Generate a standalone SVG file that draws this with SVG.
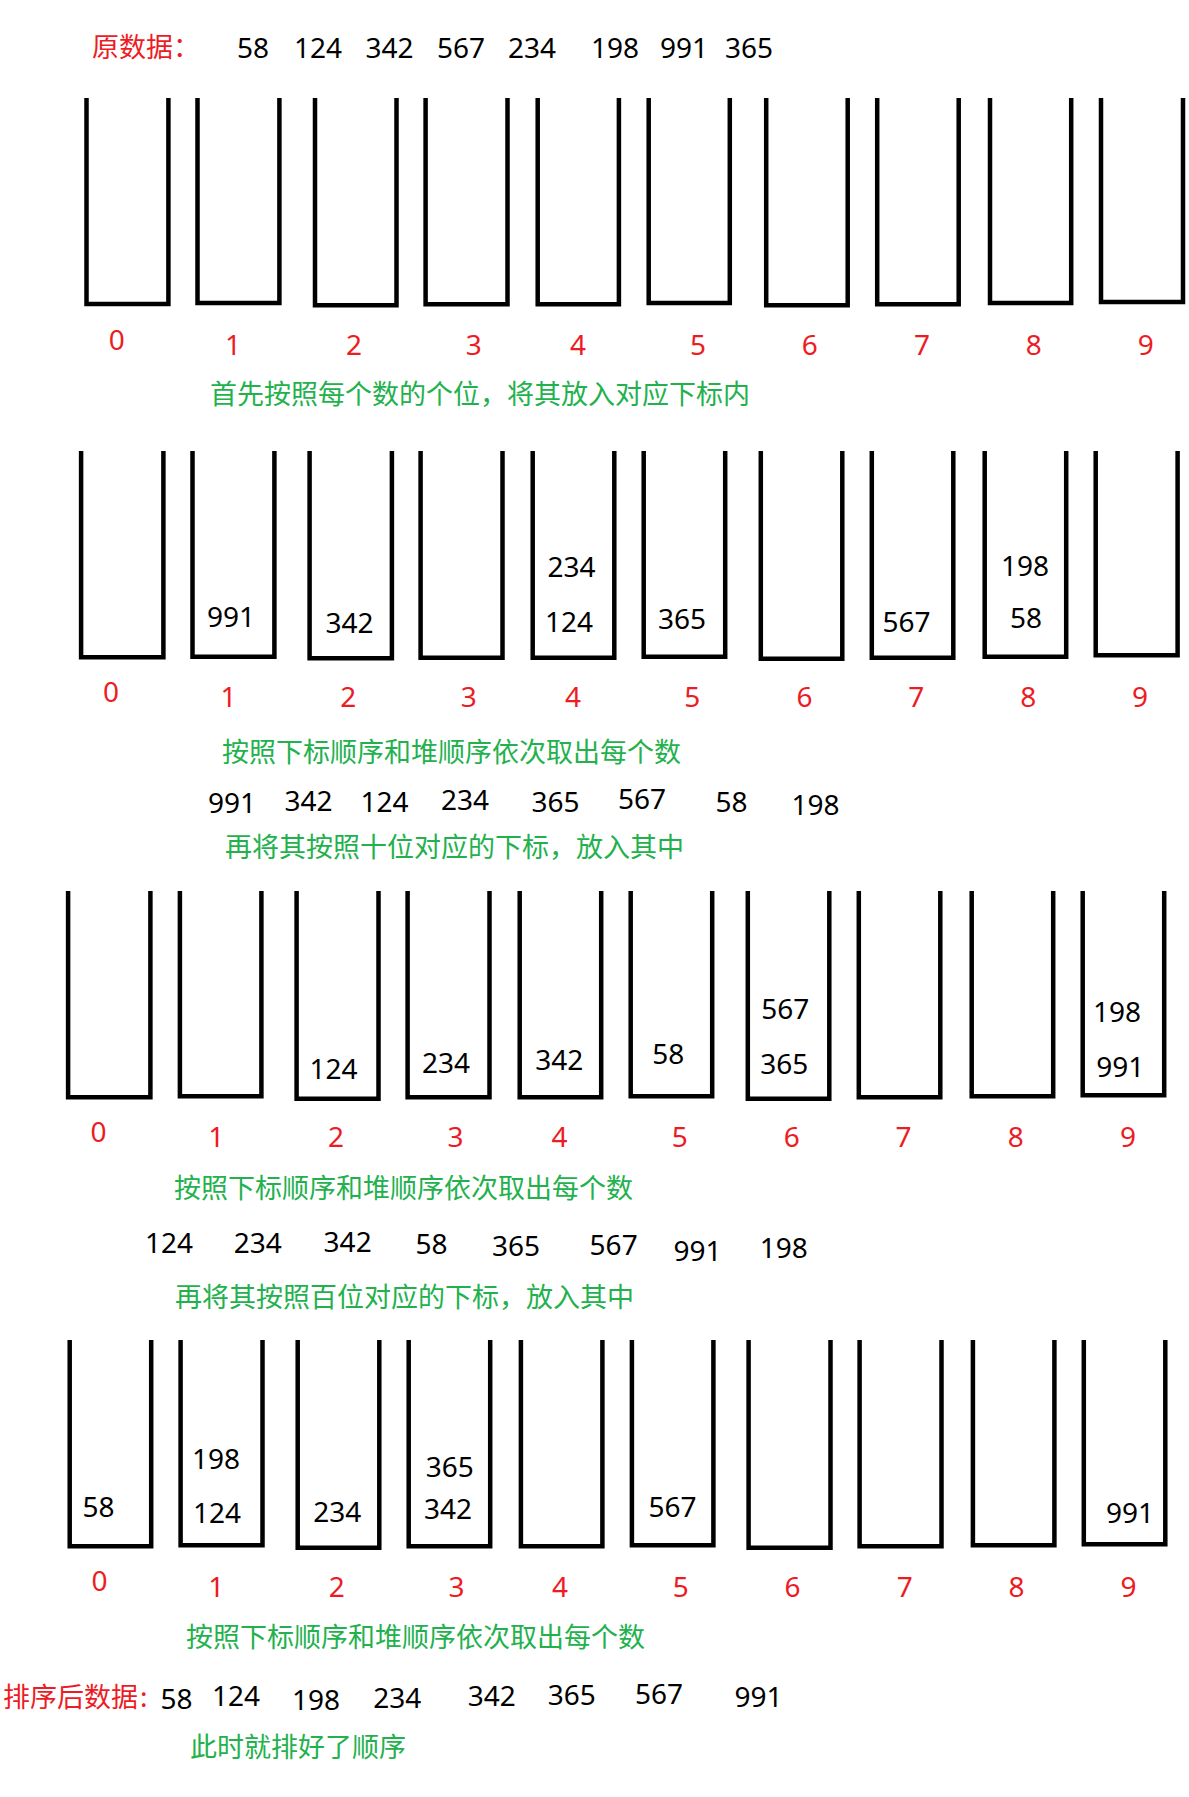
<svg xmlns="http://www.w3.org/2000/svg" width="1189" height="1797" viewBox="0 0 1189 1797">
<style>
.bk{fill:none;stroke:#000;stroke-width:4.5;stroke-linejoin:miter;stroke-linecap:butt}
.n{font-family:"Noto Sans","Noto Sans CJK SC",sans-serif;font-size:28px;fill:#000}
.ix{font-family:"Noto Sans","Noto Sans CJK SC",sans-serif;font-size:28px;fill:#ed1c24;text-anchor:middle}
.g{font-family:"Noto Sans CJK SC","Noto Sans",sans-serif;font-size:27px;fill:#22b14c}
.r{font-family:"Noto Sans CJK SC","Noto Sans",sans-serif;font-size:27px;fill:#ed1c24}
</style>
<rect width="1189" height="1797" fill="#fff"/>

<g id="header">
<text class="r" x="92" y="56.5">原数据：</text>
<text class="n" x="237" y="58">58</text>
<text class="n" x="294" y="58">124</text>
<text class="n" x="365.5" y="58">342</text>
<text class="n" x="437" y="58">567</text>
<text class="n" x="508" y="58">234</text>
<text class="n" x="591" y="58">198</text>
<text class="n" x="660" y="58">991</text>
<text class="n" x="725" y="58">365</text>
</g>

<g id="row1">
<g id="r1-b0"><path class="bk" d="M86.5 98V304H168.4V98"/><text class="ix" x="116.7" y="350">0</text></g>
<g id="r1-b1"><path class="bk" d="M197.5 98V303H279.4V98"/><text class="ix" x="233" y="355">1</text></g>
<g id="r1-b2"><path class="bk" d="M315 98V305.3H396.5V98"/><text class="ix" x="354" y="355">2</text></g>
<g id="r1-b3"><path class="bk" d="M425.6 98V304.3H507.5V98"/><text class="ix" x="473.8" y="355">3</text></g>
<g id="r1-b4"><path class="bk" d="M537.7 98V304.3H618.9V98"/><text class="ix" x="578" y="355">4</text></g>
<g id="r1-b5"><path class="bk" d="M648.7 98V303H729.8V98"/><text class="ix" x="698" y="355">5</text></g>
<g id="r1-b6"><path class="bk" d="M766.2 98V305.3H847.7V98"/><text class="ix" x="809.8" y="355">6</text></g>
<g id="r1-b7"><path class="bk" d="M877.2 98V304.3H958.7V98"/><text class="ix" x="922" y="355">7</text></g>
<g id="r1-b8"><path class="bk" d="M990 98V303H1071.2V98"/><text class="ix" x="1033.7" y="355">8</text></g>
<g id="r1-b9"><path class="bk" d="M1101 98V302H1183V98"/><text class="ix" x="1145.8" y="355">9</text></g>
</g>
<text class="g" x="210" y="404">首先按照每个数的个位，将其放入对应下标内</text>

<g id="row2">
<g id="r2-b0"><path class="bk" d="M81.1 451V657.3H163.4V451"/><text class="ix" x="111" y="701.7">0</text></g>
<g id="r2-b1"><path class="bk" d="M192.5 451V656.7H274.4V451"/><text class="n" x="207" y="627.3">991</text><text class="ix" x="228.5" y="707.3">1</text></g>
<g id="r2-b2"><path class="bk" d="M309.6 451V658.3H391.9V451"/><text class="n" x="325.5" y="632.7">342</text><text class="ix" x="348.3" y="707.3">2</text></g>
<g id="r2-b3"><path class="bk" d="M420.6 451V657.7H502.5V451"/><text class="ix" x="468.8" y="707.3">3</text></g>
<g id="r2-b4"><path class="bk" d="M532.7 451V657.7H614.3V451"/><text class="n" x="547.5" y="576.7">234</text><text class="n" x="545" y="631.7">124</text><text class="ix" x="572.9" y="707.3">4</text></g>
<g id="r2-b5"><path class="bk" d="M643.7 451V656.7H725.2V451"/><text class="n" x="658" y="629">365</text><text class="ix" x="692.3" y="707.3">5</text></g>
<g id="r2-b6"><path class="bk" d="M760.8 451V658.7H842.3V451"/><text class="ix" x="804.5" y="707.3">6</text></g>
<g id="r2-b7"><path class="bk" d="M871.8 451V657.7H953.3V451"/><text class="n" x="882.5" y="631.7">567</text><text class="ix" x="916.2" y="707.3">7</text></g>
<g id="r2-b8"><path class="bk" d="M984.7 451V656.7H1066.2V451"/><text class="n" x="1001" y="575.7">198</text><text class="n" x="1010" y="628.3">58</text><text class="ix" x="1028.3" y="707.3">8</text></g>
<g id="r2-b9"><path class="bk" d="M1095.7 451V655.3H1177.6V451"/><text class="ix" x="1140.1" y="707.3">9</text></g>
</g>
<text class="g" x="222" y="762">按照下标顺序和堆顺序依次取出每个数</text>
<g id="seq1">
<text class="n" x="208" y="813.3">991</text>
<text class="n" x="284.5" y="811">342</text>
<text class="n" x="360.5" y="811.7">124</text>
<text class="n" x="441" y="810">234</text>
<text class="n" x="531.5" y="811.7">365</text>
<text class="n" x="618" y="809.3">567</text>
<text class="n" x="715.5" y="811.7">58</text>
<text class="n" x="791.5" y="815">198</text>
</g>
<text class="g" x="225" y="857">再将其按照十位对应的下标，放入其中</text>

<g id="row3">
<g id="r3-b0"><path class="bk" d="M68.1 891V1097.3H150.4V891"/><text class="ix" x="98.4" y="1142.3">0</text></g>
<g id="r3-b1"><path class="bk" d="M179.9 891V1096.3H261.4V891"/><text class="ix" x="216.2" y="1147.3">1</text></g>
<g id="r3-b2"><path class="bk" d="M296.6 891V1098.7H378.5V891"/><text class="n" x="309.5" y="1079">124</text><text class="ix" x="336" y="1147.3">2</text></g>
<g id="r3-b3"><path class="bk" d="M407.6 891V1097.3H489.5V891"/><text class="n" x="422" y="1073.3">234</text><text class="ix" x="455.4" y="1147.3">3</text></g>
<g id="r3-b4"><path class="bk" d="M519.7 891V1097.3H601.2V891"/><text class="n" x="535.2" y="1070">342</text><text class="ix" x="559.5" y="1147.3">4</text></g>
<g id="r3-b5"><path class="bk" d="M630.7 891V1096.3H712.2V891"/><text class="n" x="652.3" y="1064.3">58</text><text class="ix" x="679.7" y="1147.3">5</text></g>
<g id="r3-b6"><path class="bk" d="M747.8 891V1098.7H829.3V891"/><text class="n" x="761.3" y="1019">567</text><text class="n" x="760.3" y="1074">365</text><text class="ix" x="791.8" y="1147.3">6</text></g>
<g id="r3-b7"><path class="bk" d="M858.8 891V1097.3H940.3V891"/><text class="ix" x="903.6" y="1147.3">7</text></g>
<g id="r3-b8"><path class="bk" d="M971.7 891V1096.3H1053.2V891"/><text class="ix" x="1015.7" y="1147.3">8</text></g>
<g id="r3-b9"><path class="bk" d="M1082.7 891V1095.3H1164.2V891"/><text class="n" x="1093" y="1021.7">198</text><text class="n" x="1096.3" y="1076.7">991</text><text class="ix" x="1127.9" y="1147.3">9</text></g>
</g>
<text class="g" x="174" y="1198">按照下标顺序和堆顺序依次取出每个数</text>
<g id="seq2">
<text class="n" x="145" y="1253.3">124</text>
<text class="n" x="233.7" y="1253.3">234</text>
<text class="n" x="323.6" y="1252.3">342</text>
<text class="n" x="415.4" y="1254.3">58</text>
<text class="n" x="492" y="1255.7">365</text>
<text class="n" x="589.6" y="1255">567</text>
<text class="n" x="673.4" y="1260.7">991</text>
<text class="n" x="759.7" y="1257.7">198</text>
</g>
<text class="g" x="175" y="1307">再将其按照百位对应的下标，放入其中</text>

<g id="row4">
<g id="r4-b0"><path class="bk" d="M69.7 1340V1546.3H151.2V1340"/><text class="n" x="82.5" y="1516.7">58</text><text class="ix" x="99.5" y="1591">0</text></g>
<g id="r4-b1"><path class="bk" d="M180.6 1340V1545.3H262.5V1340"/><text class="n" x="192" y="1469">198</text><text class="n" x="193" y="1522.7">124</text><text class="ix" x="216.2" y="1596.7">1</text></g>
<g id="r4-b2"><path class="bk" d="M297.7 1340V1547.7H379.3V1340"/><text class="n" x="313.3" y="1521.7">234</text><text class="ix" x="336.8" y="1596.7">2</text></g>
<g id="r4-b3"><path class="bk" d="M408.7 1340V1546.3H490.2V1340"/><text class="n" x="425.8" y="1476.7">365</text><text class="n" x="423.9" y="1519">342</text><text class="ix" x="456.6" y="1596.7">3</text></g>
<g id="r4-b4"><path class="bk" d="M520.9 1340V1546.3H602.4V1340"/><text class="ix" x="559.9" y="1596.7">4</text></g>
<g id="r4-b5"><path class="bk" d="M631.9 1340V1545.3H713.4V1340"/><text class="n" x="648.5" y="1517.3">567</text><text class="ix" x="680.8" y="1596.7">5</text></g>
<g id="r4-b6"><path class="bk" d="M748.6 1340V1547.7H830.5V1340"/><text class="ix" x="792.6" y="1596.7">6</text></g>
<g id="r4-b7"><path class="bk" d="M859.6 1340V1546.3H941.5V1340"/><text class="ix" x="904.7" y="1596.7">7</text></g>
<g id="r4-b8"><path class="bk" d="M972.9 1340V1545.3H1054.4V1340"/><text class="ix" x="1016.5" y="1596.7">8</text></g>
<g id="r4-b9"><path class="bk" d="M1083.8 1340V1544.3H1165.3V1340"/><text class="n" x="1106" y="1523.3">991</text><text class="ix" x="1128.6" y="1596.7">9</text></g>
</g>
<text class="g" x="186" y="1647">按照下标顺序和堆顺序依次取出每个数</text>

<g id="result">
<text class="r" x="3" y="1707">排序后数据<tspan dx="2">:</tspan></text>
<text class="n" x="160.5" y="1709.3">58</text>
<text class="n" x="212" y="1706">124</text>
<text class="n" x="292" y="1710">198</text>
<text class="n" x="373.3" y="1708.3">234</text>
<text class="n" x="467.7" y="1706">342</text>
<text class="n" x="547.8" y="1705">365</text>
<text class="n" x="635" y="1704">567</text>
<text class="n" x="734.5" y="1706.7">991</text>
</g>
<text class="g" x="190" y="1757">此时就排好了顺序</text>
<g id="connectors"/>
</svg>
